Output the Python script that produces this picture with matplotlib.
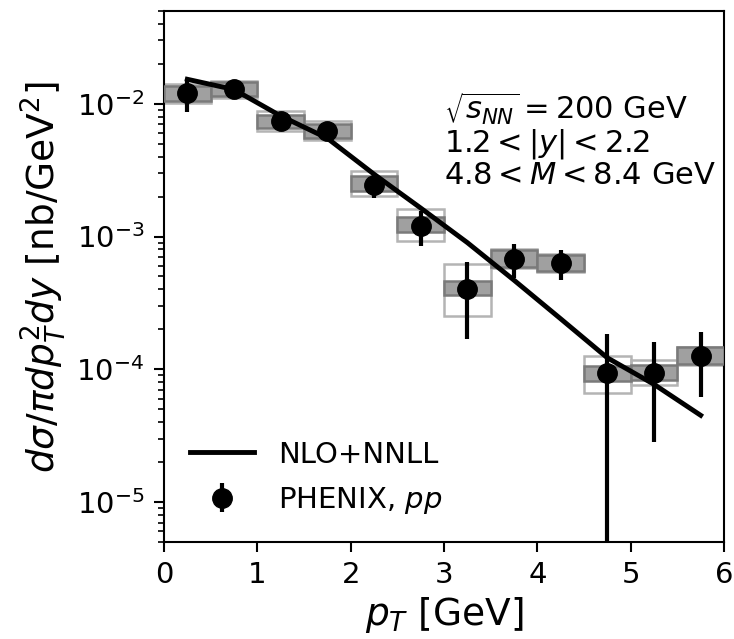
import numpy as np
import matplotlib
matplotlib.use('Agg')
from matplotlib import pyplot as plt

# PHENIX pp data
pt = [0.25, 0.75, 1.25, 1.75, 2.25, 2.75, 3.25, 3.75, 4.25, 4.75, 5.25, 5.75]
xsec = [0.0120, 0.0130, 0.00745, 0.0062, 0.00246, 0.00121, 4.04e-4, 6.8e-4, 6.3e-4, 9.3e-5, 9.45e-5, 1.27e-4]
stat = [0.0033, 0.0010, 0.0006, 0.0005, 0.0005, 0.00036, 2.35e-4, 1.95e-4, 1.6e-4, 9.0e-5, 6.6e-5, 6.5e-5]

# systematic boxes (lower / upper edge)
sysA_lo = [1.05e-2, 1.15e-2, 6.56e-3, 5.48e-3, 2.19e-3, 1.08e-3, 3.6e-4, 5.88e-4, 5.48e-4, 8.13e-5, 8.37e-5, 1.10e-4]
sysA_hi = [1.37e-2, 1.45e-2, 8.27e-3, 7.03e-3, 2.88e-3, 1.40e-3, 4.59e-4, 7.94e-4, 7.28e-4, 1.06e-4, 1.07e-4, 1.46e-4]
sysB_lo = [1.02e-2, 1.11e-2, 6.27e-3, 5.33e-3, 2.03e-3, 9.33e-4, 2.5e-4, 5.8e-4, 5.4e-4, 6.68e-5, 7.59e-5, 1.08e-4]
sysB_hi = [1.41e-2, 1.49e-2, 8.86e-3, 7.36e-3, 3.1e-3, 1.61e-3, 6.23e-4, 8.0e-4, 7.35e-4, 1.26e-4, 1.18e-4, 1.48e-4]

# NLO+NNLL theory
theory = [0.0153, 0.0128, 0.0081, 0.0055, 2.95e-3, 1.64e-3, 9.0e-4, 4.69e-4, 2.4e-4, 1.22e-4, 7.7e-5, 4.5e-5]

fig = plt.figure(figsize=(7.34, 6.39), dpi=100)
ax = fig.add_axes([0.2234, 0.1518, 0.763, 0.831])

hB = np.array(sysB_hi) - np.array(sysB_lo)
hA = np.array(sysA_hi) - np.array(sysA_lo)
ax.bar(pt, hB, bottom=sysB_lo, width=0.5, facecolor='none', edgecolor='#b4b4b4', linewidth=1.8, zorder=2)
ax.bar(pt, hA, bottom=sysA_lo, width=0.5, facecolor='#a0a0a0', edgecolor='#7a7a7a', linewidth=1.8, zorder=3)

ax.plot(pt, theory, color='black', lw=3.5, label='NLO+NNLL', zorder=4)
ax.errorbar(pt, xsec, yerr=stat, fmt='o', color='black', ms=14, elinewidth=3,
            capsize=0, label='PHENIX, $pp$', zorder=5)

ax.set_yscale('log')
ax.set_xlim(0, 6)
ax.set_ylim(5e-6, 5e-2)

ax.tick_params(which='major', labelsize=21, length=7, width=1.5, pad=7)
ax.tick_params(which='minor', length=4, width=1.2)
for s in ax.spines.values():
    s.set_linewidth(1.5)

ax.set_xlabel('$p_T$ [GeV]', fontsize=27, labelpad=4)
ax.set_ylabel('$d\\sigma/\\pi dp_T^2dy$ [nb/GeV$^2$]', fontsize=27, labelpad=6)

ax.text(3.0, 0.0125, '$\\sqrt{s_{NN}} = 200$ GeV\n$1.2 < |y| < 2.2$\n$4.8 < M < 8.4$ GeV',
        fontsize=22, va='top', ha='left', linespacing=1.0)

ax.legend(loc='lower left', fontsize=21, frameon=False, handlelength=2.2, labelspacing=0.55)

fig.savefig('out.png', dpi=100)
